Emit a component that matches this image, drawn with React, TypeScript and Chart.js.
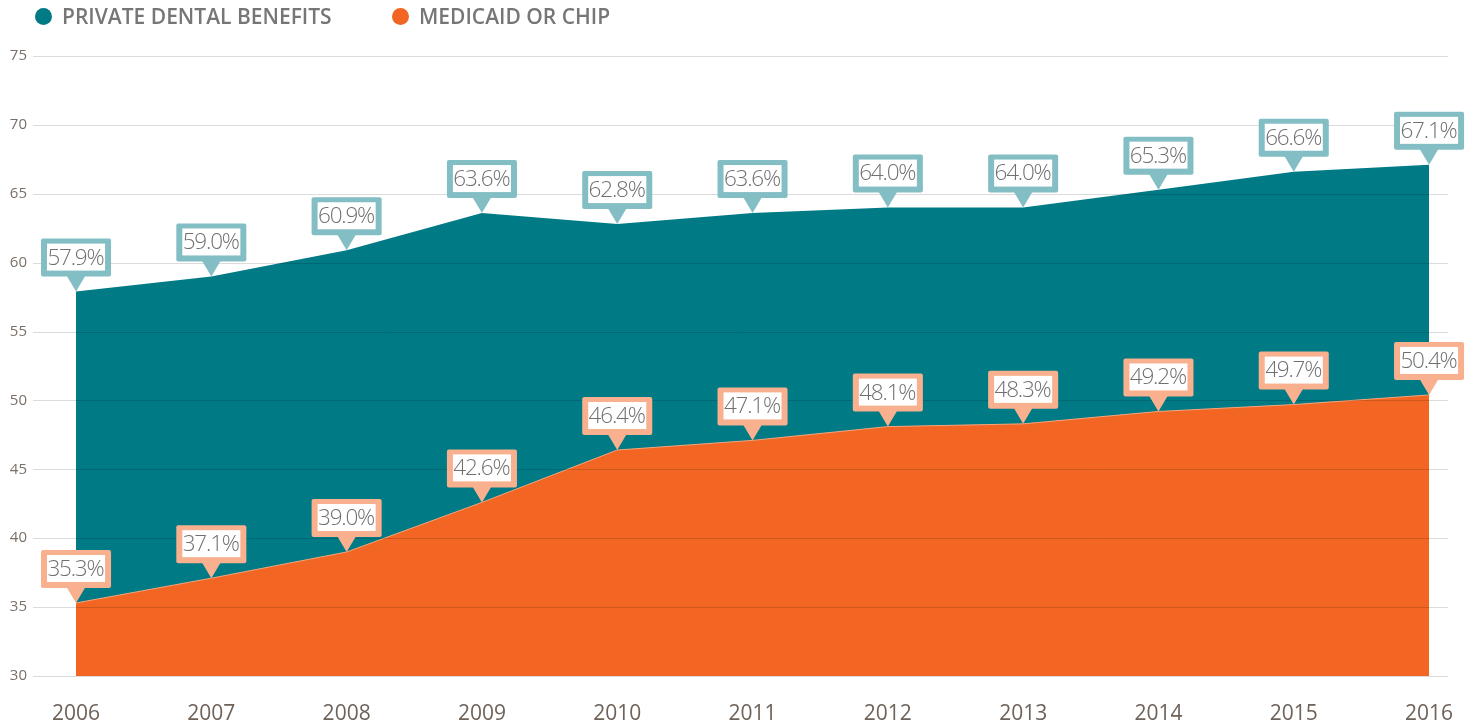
import React, { useEffect, useRef } from "react";
import { Chart, registerables } from "chart.js";

Chart.register(...registerables);

const years = [2006, 2007, 2008, 2009, 2010, 2011, 2012, 2013, 2014, 2015, 2016];
const privateDental = [57.9, 59.0, 60.9, 63.6, 62.8, 63.6, 64.0, 64.0, 65.3, 66.6, 67.1];
const medicaidChip = [35.3, 37.1, 39.0, 42.6, 46.4, 47.1, 48.1, 48.3, 49.2, 49.7, 50.4];
const yTicks = [30, 35, 40, 45, 50, 55, 60, 65, 70, 75];
const seriesNames = ["PRIVATE DENTAL BENEFITS", "MEDICAID OR CHIP"];

const TEAL = "#007a85";
const ORANGE = "#f26522";
const TEAL_LABEL = "#84bec5";
const ORANGE_LABEL = "#f8b08e";
const FONT = "'Open Sans', Lato, sans-serif";

const gridOverlay = {
  id: "gridOverlay",
  afterDatasetsDraw(chart: any) {
    const { ctx, chartArea, scales } = chart;
    ctx.save();
    ctx.strokeStyle = "rgba(0,0,0,0.14)";
    ctx.lineWidth = 1;
    yTicks.forEach((v) => {
      const y = Math.round(scales.y.getPixelForValue(v)) + 0.5;
      ctx.beginPath();
      ctx.moveTo(chartArea.left, y);
      ctx.lineTo(chartArea.right, y);
      ctx.stroke();
    });
    ctx.restore();
  },
};

const callouts = {
  id: "callouts",
  afterDatasetsDraw(chart: any) {
    const { ctx } = chart;
    ctx.save();
    ctx.font = "300 22.5px " + FONT;
    try {
      (ctx as any).letterSpacing = "-1.2px";
    } catch (e) {}
    chart.data.datasets.forEach((ds: any, di: number) => {
      const meta = chart.getDatasetMeta(di);
      const color = ds.calloutColor;
      meta.data.forEach((pt: any, i: number) => {
        const v = ds.data[i].y;
        const text = v.toFixed(1) + "%";
        const px = pt.x;
        const py = pt.y;
        const triH = 15;
        const triW = 9.5;
        const boxH = 38;
        const bTop = 5;
        const bSide = 6;
        const bBottom = 6;
        const tw = ctx.measureText(text).width;
        const innerW = tw + 2;
        const innerH = boxH - bTop - bBottom;
        const boxW = innerW + bSide * 2;
        const boxBottom = py - triH;
        const boxTop = boxBottom - boxH;
        const boxLeft = px - boxW / 2;
        ctx.fillStyle = color;
        ctx.beginPath();
        ctx.moveTo(px, py);
        ctx.lineTo(px - triW, boxBottom - 1);
        ctx.lineTo(px + triW, boxBottom - 1);
        ctx.closePath();
        ctx.fill();
        ctx.beginPath();
        (ctx as any).roundRect(boxLeft, boxTop, boxW, boxH, 2);
        ctx.fill();
        ctx.fillStyle = "#ffffff";
        ctx.fillRect(boxLeft + bSide, boxTop + bTop, innerW, innerH);
        ctx.fillStyle = "#707070";
        ctx.textAlign = "center";
        ctx.textBaseline = "middle";
        ctx.fillText(text, px - 0.6, boxTop + bTop + innerH / 2 + 1);
      });
    });
    ctx.restore();
  },
};

export default function App() {
  const canvasRef = useRef<HTMLCanvasElement | null>(null);

  useEffect(() => {
    document.body.style.margin = "0";
    const canvas = canvasRef.current;
    if (!canvas) return;
    const chart = new Chart(canvas, {
      type: "line",
      data: {
        datasets: [
          {
            label: seriesNames[1],
            data: years.map((x, i) => ({ x, y: medicaidChip[i] })),
            backgroundColor: ORANGE,
            borderColor: "#f7a57c",
            borderWidth: 1,
            pointRadius: 0,
            fill: "start",
            tension: 0,
            calloutColor: ORANGE_LABEL,
          } as any,
          {
            label: seriesNames[0],
            data: years.map((x, i) => ({ x, y: privateDental[i] })),
            backgroundColor: TEAL,
            borderColor: TEAL,
            borderWidth: 0,
            pointRadius: 0,
            fill: "start",
            tension: 0,
            calloutColor: TEAL_LABEL,
          } as any,
        ],
      },
      options: {
        animation: false,
        responsive: false,
        maintainAspectRatio: false,
        layout: { autoPadding: false, padding: { top: 56, right: 22, left: 0, bottom: 0 } },
        plugins: {
          legend: { display: false },
          tooltip: { enabled: false },
        },
        scales: {
          x: {
            type: "linear",
            min: 2005.682,
            max: 2016.14,
            afterBuildTicks: (scale: any) => {
              scale.ticks = years.map((v) => ({ value: v }));
            },
            afterFit: (scale: any) => {
              scale.height = 49;
              scale.paddingLeft = 0;
              scale.paddingRight = 0;
            },
            grid: { display: false, drawTicks: false },
            border: { display: false },
            ticks: {
              padding: 25,
              color: "#6e6259",
              font: { family: FONT, size: 21 },
              callback: (v: any) => String(v),
              maxRotation: 0,
              autoSkip: false,
            },
          },
          y: {
            min: 30,
            max: 75,
            afterBuildTicks: (scale: any) => {
              scale.ticks = yTicks.map((v) => ({ value: v }));
            },
            afterFit: (scale: any) => {
              scale.width = 33;
              scale.paddingTop = 0;
              scale.paddingBottom = 0;
            },
            grid: { display: false, drawTicks: false },
            border: { display: false },
            ticks: {
              padding: 6,
              color: "#7b7068",
              font: { family: FONT, size: 15 },
            },
          },
        },
      },
      plugins: [gridOverlay, callouts],
    });
    return () => chart.destroy();
  }, []);

  const legendItem = (left: number, color: string, text: string) => (
    <div
      style={{
        position: "absolute",
        left,
        top: 3,
        display: "flex",
        alignItems: "center",
        height: 26,
      }}
    >
      <span
        style={{
          display: "inline-block",
          width: 17,
          height: 17,
          borderRadius: "50%",
          background: color,
          marginRight: 10,
        }}
      />
      <span
        style={{
          fontFamily: FONT,
          fontWeight: 600,
          fontSize: 21,
          color: "#767676",
        }}
      >
        {text}
      </span>
    </div>
  );

  return (
    <div style={{ position: "relative", width: 1470, height: 725, background: "#fff" }}>
      {legendItem(35, TEAL, seriesNames[0])}
      {legendItem(392, ORANGE, seriesNames[1])}
      <canvas ref={canvasRef} width={1470} height={725} style={{ display: "block" }} />
    </div>
  );
}
